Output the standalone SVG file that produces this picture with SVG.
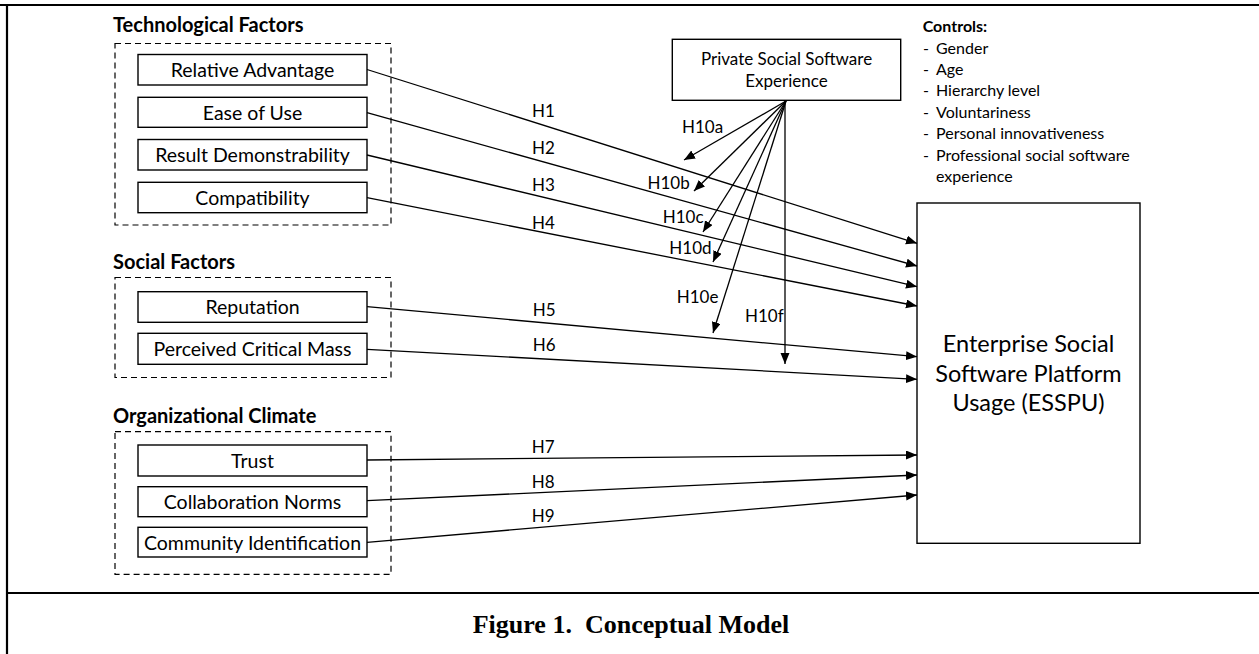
<svg xmlns="http://www.w3.org/2000/svg" width="1259" height="654" viewBox="0 0 1259 654">
<style>
.frame{stroke:#000;stroke-width:2.2;fill:none}
.grp{fill:none;stroke:#000;stroke-width:1.2;stroke-dasharray:6 4}
.box{fill:#fff;stroke:#000;stroke-width:1.4}
.lbl{font-family:Lato,"Open Sans",sans-serif;font-size:19.5px;fill:#000;text-anchor:middle}
.head{font-family:Lato,"Open Sans",sans-serif;font-size:20px;font-weight:bold;fill:#000}
.hyp{font-family:Lato,"Open Sans",sans-serif;font-size:17px;fill:#000}
.ctl{font-family:Lato,"Open Sans",sans-serif;font-size:16px;fill:#000}
.big{font-family:Lato,"Open Sans",sans-serif;font-size:23.5px;fill:#000;text-anchor:middle}
.cap{font-family:"Liberation Serif","Times New Roman",serif;font-size:26px;font-weight:bold;fill:#000;text-anchor:middle}
.conn line{stroke:#000;stroke-width:1.3;marker-end:url(#arr)}
</style>
<defs>
<marker id="arr" markerUnits="userSpaceOnUse" markerWidth="12" markerHeight="10" refX="11" refY="4.5" orient="auto">
<path d="M0,0 L11,4.5 L0,9 z" fill="#000"/>
</marker>
</defs>
<rect width="1259" height="654" fill="#fff"/>
<g id="frame">
<line class="frame" x1="0" y1="5" x2="1259" y2="5"/>
<line class="frame" x1="7" y1="4" x2="7" y2="654"/>
<line class="frame" x1="6" y1="593" x2="1259" y2="593"/>
</g>
<g id="tech-group">
<text class="head" x="113" y="32">Technological Factors</text>
<rect class="grp" x="115" y="43.5" width="276" height="181.5"/>
</g>
<g id="social-group">
<text class="head" x="113" y="269.3">Social Factors</text>
<rect class="grp" x="115" y="277.5" width="276" height="100"/>
</g>
<g id="org-group">
<text class="head" x="113" y="422.7">Organizational Climate</text>
<rect class="grp" x="115" y="431.7" width="276" height="142.6"/>
</g>
<g id="relative-advantage"><rect class="box" x="138" y="54.5" width="229" height="30.5"/><text class="lbl" x="252.5" y="77">Relative Advantage</text></g>
<g id="ease-of-use"><rect class="box" x="138" y="97.3" width="229" height="30"/><text class="lbl" x="252.5" y="119.7">Ease of Use</text></g>
<g id="result-demonstrability"><rect class="box" x="138" y="139.5" width="229" height="30.5"/><text class="lbl" x="252.5" y="162">Result Demonstrability</text></g>
<g id="compatibility"><rect class="box" x="138" y="182.3" width="229" height="30.4"/><text class="lbl" x="252.5" y="204.7">Compatibility</text></g>
<g id="reputation"><rect class="box" x="138" y="291.7" width="229" height="30.6"/><text class="lbl" x="252.5" y="314.3">Reputation</text></g>
<g id="perceived-critical-mass"><rect class="box" x="138" y="333.3" width="229" height="31"/><text class="lbl" x="252.5" y="356.1">Perceived Critical Mass</text></g>
<g id="trust"><rect class="box" x="138" y="445" width="229" height="31"/><text class="lbl" x="252.5" y="467.8">Trust</text></g>
<g id="collaboration-norms"><rect class="box" x="138" y="486.7" width="229" height="30"/><text class="lbl" x="252.5" y="509">Collaboration Norms</text></g>
<g id="community-identification"><rect class="box" x="138" y="527.3" width="229" height="29.7"/><text class="lbl" x="252.5" y="549.5">Community Identification</text></g>
<g id="private-social-software-experience"><rect class="box" x="672.3" y="39.3" width="228.4" height="61"/><text class="lbl" style="font-size:17px" x="786.5" y="65">Private Social Software</text><text class="lbl" style="font-size:17px" x="786.5" y="86.7">Experience</text></g>
<g id="esspu"><rect class="box" x="917" y="203" width="223" height="340.3"/><text class="big" x="1028.5" y="351.5">Enterprise Social</text><text class="big" x="1028.5" y="381.5">Software Platform</text><text class="big" x="1028.5" y="411">Usage (ESSPU)</text></g>
<g id="controls">
<text class="ctl" x="922.7" y="32" font-weight="bold">Controls:</text>
<text class="ctl" x="923" y="53.5">-</text><text class="ctl" x="936" y="53.5">Gender</text>
<text class="ctl" x="923" y="74.9">-</text><text class="ctl" x="936" y="74.9">Age</text>
<text class="ctl" x="923" y="96.3">-</text><text class="ctl" x="936" y="96.3">Hierarchy level</text>
<text class="ctl" x="923" y="117.7">-</text><text class="ctl" x="936" y="117.7">Voluntariness</text>
<text class="ctl" x="923" y="139.1">-</text><text class="ctl" x="936" y="139.1">Personal innovativeness</text>
<text class="ctl" x="923" y="160.5">-</text><text class="ctl" x="936" y="160.5">Professional social software</text>
<text class="ctl" x="936" y="181.9">experience</text>
</g>
<g id="connectors" class="conn">
<line x1="367" y1="69.5" x2="917" y2="243.3"/>
<line x1="367" y1="112.7" x2="917" y2="266"/>
<line x1="367" y1="155" x2="917" y2="286.7"/>
<line x1="367" y1="197.7" x2="917" y2="306"/>
<line x1="367" y1="306.7" x2="917" y2="356.7"/>
<line x1="367" y1="349.3" x2="917" y2="379.3"/>
<line x1="367" y1="460" x2="917" y2="455"/>
<line x1="367" y1="500.7" x2="917" y2="475"/>
<line x1="367" y1="542.3" x2="917" y2="495"/>
<line x1="786" y1="101" x2="684" y2="160"/>
<line x1="786" y1="101" x2="694" y2="191"/>
<line x1="786" y1="101" x2="703" y2="232"/>
<line x1="786" y1="101" x2="713" y2="262"/>
<line x1="786" y1="101" x2="713" y2="333"/>
<line x1="785" y1="101" x2="785" y2="364"/>
</g>
<g id="hyp-labels">
<text class="hyp" x="532" y="117">H1</text>
<text class="hyp" x="532" y="154">H2</text>
<text class="hyp" x="532" y="191">H3</text>
<text class="hyp" x="532" y="229">H4</text>
<text class="hyp" x="532.7" y="315.7">H5</text>
<text class="hyp" x="532.7" y="350.7">H6</text>
<text class="hyp" x="531.7" y="453.3">H7</text>
<text class="hyp" x="531.7" y="488.3">H8</text>
<text class="hyp" x="531.7" y="521.7">H9</text>
<text class="hyp" x="682" y="133">H10a</text>
<text class="hyp" x="647.5" y="189">H10b</text>
<text class="hyp" x="662.7" y="222.7">H10c</text>
<text class="hyp" x="669.3" y="254">H10d</text>
<text class="hyp" x="676.7" y="303.3">H10e</text>
<text class="hyp" x="745" y="321.7">H10f</text>
</g>
<text class="cap" x="631" y="633.3" xml:space="preserve">Figure 1.  Conceptual Model</text>
</svg>
